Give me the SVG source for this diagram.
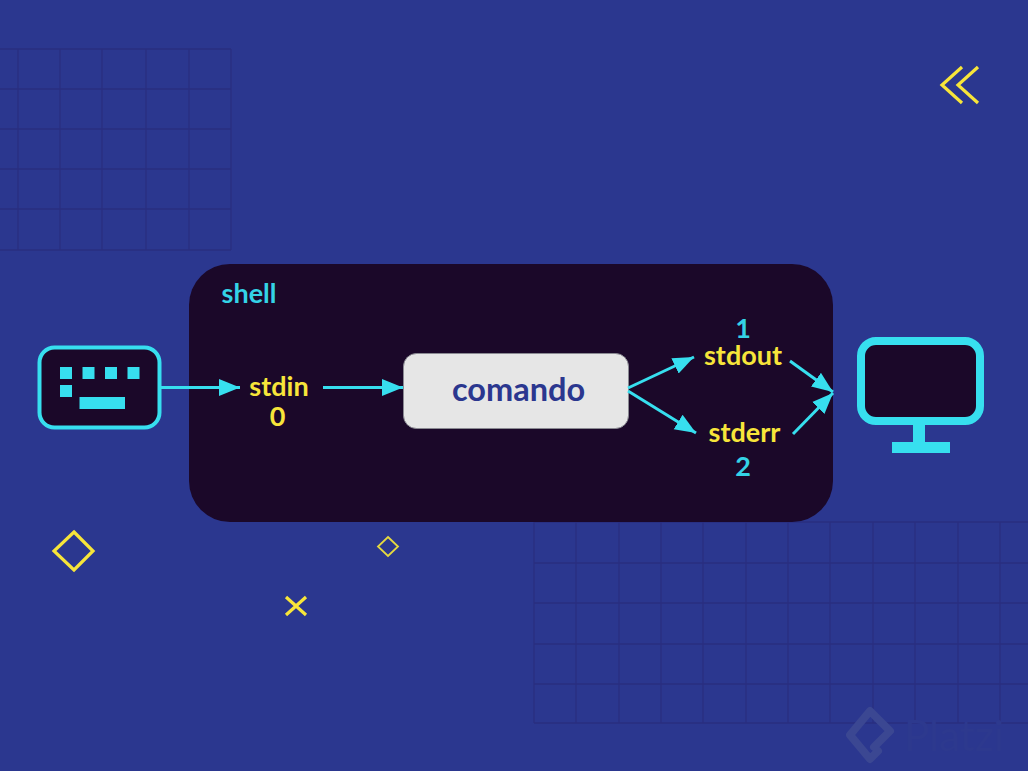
<svg xmlns="http://www.w3.org/2000/svg" width="1028" height="771" viewBox="0 0 1028 771">
<style>
.grid{stroke:#2a2f80;stroke-width:1.3;fill:none}
.cy{fill:#37dfef}
.t{font-family:Lato,"Liberation Sans",sans-serif;font-weight:700;font-size:27px;text-anchor:middle}
.y{fill:#f7e53a}
.c{fill:#34d3e6}
.deco{fill:none;stroke:#f7e53a;stroke-width:3.2}
.conn{stroke:#37dfef;stroke-width:3;fill:none;marker-end:url(#a)}
</style>
<defs>
<marker id="a" markerUnits="userSpaceOnUse" markerWidth="21" markerHeight="18" refX="21" refY="9" orient="auto"><path d="M0 0.500L21 9L0 17.500Z" fill="#37dfef"/></marker>
</defs>
<rect width="1028" height="771" fill="#2b378f"/>
<g id="grid-top-left" class="grid">
<path d="M0 49H231M0 89H231M0 129H231M0 169H231M0 209H231M0 250H231"/>
<path d="M18 49V250M60 49V250M102 49V250M146 49V250M189 49V250M231 49V250"/>
</g>
<g id="grid-bottom-right" class="grid">
<path d="M534 522H1028M534 563H1028M534 603H1028M534 644H1028M534 684H1028M534 723H1028"/>
<path d="M534 522V723M576 522V723M619 522V723M661 522V723M703 522V723M746 522V723M788 522V723M830 522V723M873 522V723M915 522V723M958 522V723M1000 522V723"/>
</g>
<g id="watermark">
<path d="M878 751L870 759L850 735L870 711L890 731L874 747" fill="none" stroke="#3b4792" stroke-width="8" stroke-linejoin="round" stroke-linecap="round"/>
<text x="904" y="751" font-family="Lato,'Liberation Sans',sans-serif" font-size="42" fill="#2d398e">Platzi</text>
</g>
<g id="decorations">
<path class="deco" d="M962 67L942 85L962 103M978 67L958 85L978 103"/>
<path class="deco" d="M74 532L93 551L74 570L54 551Z"/>
<path class="deco" style="stroke-width:1.8;stroke:#e6d93f" d="M388 537L398 546.500L388 556L378 546.500Z"/>
<path class="deco" d="M286 597L306 615M306 597L286 615"/>
</g>
<g id="shell">
<rect x="189" y="264" width="644" height="258" rx="41" fill="#1b0829"/>
<text class="t c" x="249" y="303">shell</text>
</g>
<g id="keyboard">
<rect x="39.500" y="347.500" width="120" height="80" rx="15" fill="#1b0829" stroke="#37dfef" stroke-width="4"/>
<path class="cy" d="M60 367h12v12H60zM82.500 367h12v12h-12zM105 367h12v12h-12zM127.500 367h12v12h-12zM60 385h12v12H60zM79.500 397h45.500v12H79.500z"/>
</g>
<g id="monitor">
<rect x="861" y="341" width="119" height="80" rx="15" fill="#1b0829" stroke="#37dfef" stroke-width="8"/>
<path class="cy" d="M913 425h12v17h25v11h-58v-11h21z"/>
</g>
<g id="comando">
<rect x="403.500" y="353.500" width="225" height="75" rx="13" fill="#e6e6e6" stroke="#8a8a92" stroke-width="1"/>
<text x="518.500" y="401" font-family="Lato,'Liberation Sans',sans-serif" font-weight="700" font-size="32.500" text-anchor="middle" fill="#2b378f">comando</text>
</g>
<g id="stdin"><text class="t y" x="279" y="396">stdin</text><text class="t y" x="277.500" y="426">0</text></g>
<g id="stdout"><text class="t c" x="743" y="338">1</text><text class="t y" x="743" y="365">stdout</text></g>
<g id="stderr"><text class="t y" x="744.500" y="442">stderr</text><text class="t c" x="743" y="476">2</text></g>
<g id="connectors">
<path class="conn" d="M161 387.500H240"/>
<path class="conn" d="M323 387.500H403"/>
<path class="conn" d="M628 388L694 357"/>
<path class="conn" d="M628 391L696 433"/>
<path class="conn" d="M790 361L833 392"/>
<path class="conn" d="M793 434L833 393"/>
</g>
</svg>
